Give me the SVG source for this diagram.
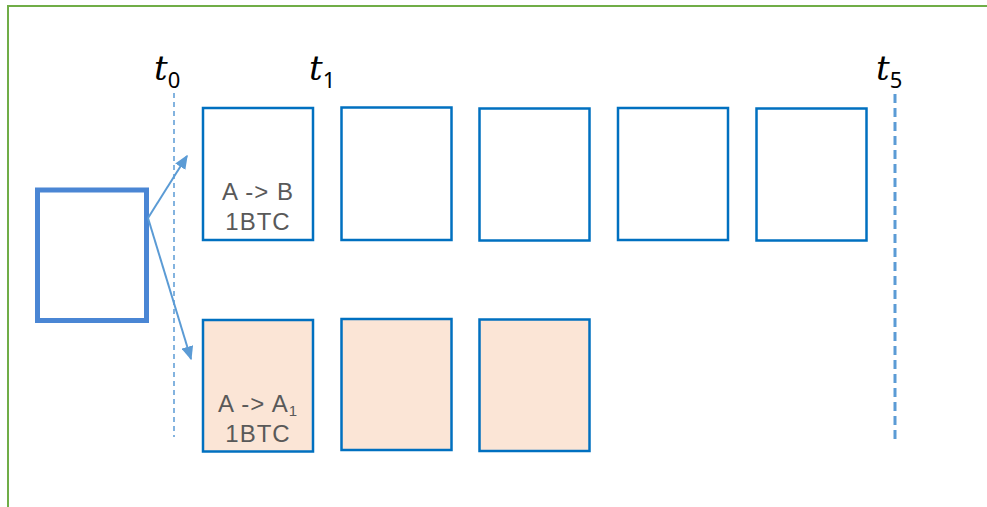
<svg xmlns="http://www.w3.org/2000/svg" width="987" height="507" viewBox="0 0 987 507">
  <defs>
    <marker id="arrow" viewBox="0 0 10 10" refX="9" refY="5" markerWidth="7" markerHeight="6" markerUnits="strokeWidth" orient="auto" preserveAspectRatio="none">
      <path d="M0,0 L10,5 L0,10 z" fill="#5b9bd5"/>
    </marker>
    <style>
      .blk { fill: #ffffff; stroke: #0070c0; stroke-width: 2.5; }
      .alt { fill: #fbe5d6; stroke: #0070c0; stroke-width: 2.5; }
      .src { fill: #ffffff; stroke: #4a86d4; stroke-width: 5; }
      .lbl { font-family: "Liberation Sans", Arial, sans-serif; font-size: 24px; letter-spacing: 1px; fill: #595959; text-anchor: middle; }
      .tm { font-family: "DejaVu Serif", "Liberation Serif", serif; font-style: italic; font-size: 34px; fill: #000000; }
      .sub { font-family: "Noto Sans", sans-serif; font-style: normal; font-size: 22px; }
      .edge { stroke: #5b9bd5; stroke-width: 2; fill: none; marker-end: url(#arrow); }
    </style>
  </defs>

  <rect width="987" height="507" fill="#ffffff"/>
  <!-- outer frame -->
  <path d="M8,507 V6 H987" fill="none" stroke="#70ad47" stroke-width="2"/>

  <!-- time markers -->
  <g id="time-markers">
    <line x1="174" y1="93" x2="174" y2="437" stroke="#5b9bd5" stroke-width="1.5" stroke-dasharray="5,4"/>
    <line x1="895" y1="94" x2="895" y2="441" stroke="#5b9bd5" stroke-width="3" stroke-dasharray="9,5"/>
    <text class="tm" x="154" y="80">t<tspan class="sub" dy="8">0</tspan></text>
    <text class="tm" x="309" y="80">t<tspan class="sub" dy="8">1</tspan></text>
    <text class="tm" x="876" y="80">t<tspan class="sub" dy="8">5</tspan></text>
  </g>

  <g id="source">
    <rect class="src" x="37.5" y="190" width="109" height="130.5"/>
  </g>

  <g id="chain-main">
    <g id="main-1">
      <rect class="blk" x="203" y="108" width="110" height="132"/>
      <text class="lbl" x="258" y="200">A -&gt; B</text>
      <text class="lbl" x="258" y="230">1BTC</text>
    </g>
    <g id="main-2"><rect class="blk" x="341.5" y="107.5" width="110" height="132.5"/></g>
    <g id="main-3"><rect class="blk" x="479.5" y="108.5" width="110" height="132"/></g>
    <g id="main-4"><rect class="blk" x="618" y="108" width="110" height="132"/></g>
    <g id="main-5"><rect class="blk" x="756.5" y="108.5" width="110" height="132"/></g>
  </g>

  <g id="chain-fork">
    <g id="fork-1">
      <rect class="alt" x="203" y="320" width="110" height="131.5"/>
      <text class="lbl" x="258" y="412">A -&gt; A<tspan font-size="15" dy="4">1</tspan></text>
      <text class="lbl" x="258" y="442">1BTC</text>
    </g>
    <g id="fork-2"><rect class="alt" x="341.5" y="319" width="110" height="131"/></g>
    <g id="fork-3"><rect class="alt" x="479.5" y="319.5" width="110" height="131.5"/></g>
  </g>

  <g id="connectors">
    <line class="edge" x1="148" y1="218" x2="187" y2="156"/>
    <line class="edge" x1="148" y1="218" x2="191" y2="359"/>
  </g>
</svg>
